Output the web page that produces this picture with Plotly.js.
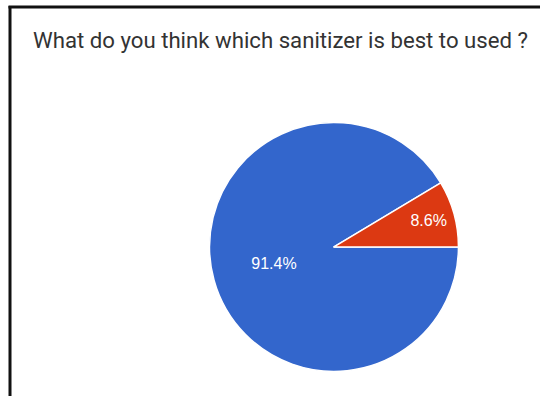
<!DOCTYPE html>
<html>
<head>
<meta charset="utf-8">
<script src="https://cdn.plot.ly/plotly-3.0.1.min.js"></script>
<style>html,body{margin:0;padding:0;background:#fff;}#chart{width:540px;height:396px;}</style>
</head>
<body>
<div id="chart"></div>
<script>
const categories = ["Option A", "Option B"];
const shares = [91.4, 8.6];
const sliceColors = ["#3366cc", "#dc3912"];
const chartTitle = "What do you think which sanitizer is best to used ?";

const trace = {
  type: "pie",
  labels: categories,
  values: shares,
  sort: false,
  direction: "clockwise",
  rotation: 90,
  marker: {colors: sliceColors, line: {color: "#ffffff", width: 1.5}},
  texttemplate: "%{value:.1f}%",
  textposition: "inside",
  insidetextorientation: "horizontal",
  textfont: {family: "Liberation Sans, Arial, sans-serif", size: 16, color: "#ffffff"},
  hoverinfo: "none",
  showlegend: false,
  domain: {x: [0.388, 0.849], y: [0.062, 0.691]}
};

const layout = {
  width: 540,
  height: 396,
  margin: {l: 0, r: 0, t: 0, b: 0},
  paper_bgcolor: "#ffffff",
  plot_bgcolor: "#ffffff",
  title: {
    text: chartTitle,
    xref: "paper", yref: "paper",
    x: 33/540, xanchor: "left",
    y: 1 - 40/396, yanchor: "middle",
    font: {family: "Roboto, sans-serif", size: 22.2, color: "#333333"}
  },
  shapes: [
    {type: "line", xref: "paper", yref: "paper", x0: 10/540, x1: 10/540, y0: 0, y1: 1 - 6/396, line: {color: "#111111", width: 3}},
    {type: "line", xref: "paper", yref: "paper", x0: 8.5/540, x1: 1, y0: 1 - 7/396, y1: 1 - 7/396, line: {color: "#111111", width: 3}}
  ]
};

Plotly.newPlot("chart", [trace], layout, {displayModeBar: false, staticPlot: true});
</script>
</body>
</html>
